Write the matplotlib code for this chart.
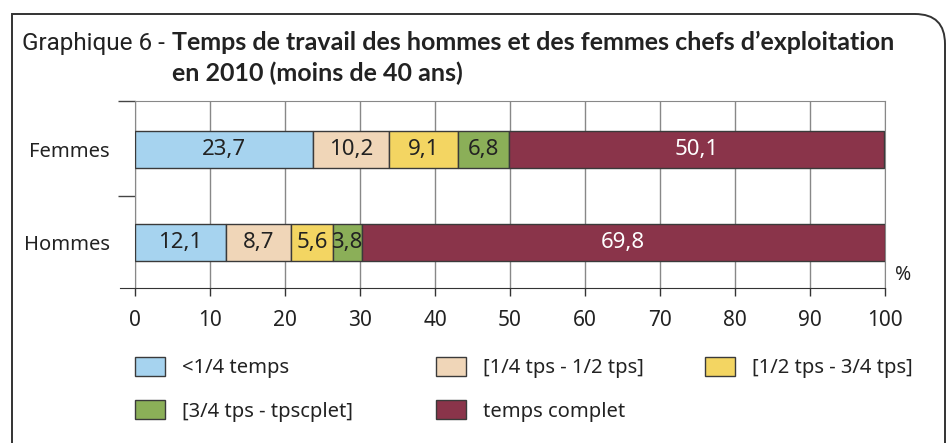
import matplotlib
matplotlib.use("Agg")
import matplotlib.pyplot as plt
from matplotlib.patches import Patch, PathPatch
from matplotlib.path import Path
import numpy as np

categories = ["Hommes", "Femmes"]
series_names = ["<1/4 temps", "[1/4 tps - 1/2 tps]", "[1/2 tps - 3/4 tps]",
                "[3/4 tps - tpscplet]", "temps complet"]
hommes = [12.1, 8.7, 5.6, 3.8, 69.8]
femmes = [23.7, 10.2, 9.1, 6.8, 50.1]
labels_h = ["12,1", "8,7", "5,6", "3,8", "69,8"]
labels_f = ["23,7", "10,2", "9,1", "6,8", "50,1"]
colors = ["#A6D3EF", "#F0D6B8", "#F3D562", "#8BAF58", "#8A344A"]
text_colors = ["#222222", "#222222", "#222222", "#222222", "white"]
xticks = [0, 10, 20, 30, 40, 50, 60, 70, 80, 90, 100]

W, H = 947, 443
fig = plt.figure(figsize=(W / 100, H / 100), dpi=100)
plt.rcParams['font.family'] = ['Noto Sans', 'DejaVu Sans']

def fx(px):
    return px / W

def fy(py):
    return 1 - py / H

ax = fig.add_axes([fx(135), fy(288), fx(885) - fx(135), fy(101) - fy(288)])

data = [hommes, femmes]
labs = [labels_h, labels_f]
ypos = [0, 1]
for yi, vals, ls in zip(ypos, data, labs):
    left = 0
    for i, v in enumerate(vals):
        ax.barh(yi, v, left=left, height=0.4, color=colors[i],
                edgecolor="#3a3a3a", linewidth=1.0, zorder=3)
        ax.text(left + v / 2, yi, ls[i], ha="center", va="center",
                fontsize=16, color=text_colors[i], zorder=4)
        left += v

ax.set_xlim(0, 100)
ax.set_ylim(-0.49, 1.52)
ax.set_xticks(xticks)
ax.set_xticklabels([str(t) for t in xticks], fontsize=15, color="#222222")
ax.tick_params(axis="x", length=6, width=1, color="#333333", pad=10)
ax.set_yticks(ypos)
ax.set_yticklabels(categories, fontsize=14.5, color="#222222")
ax.tick_params(axis="y", which="major", length=0, pad=18)
ax.set_yticks([0.5, 1.52], minor=True)
ax.tick_params(axis="y", which="minor", length=12, width=1, color="#444444")
ax.grid(axis="x", color="#888888", linewidth=1, zorder=1)
for s in ["top", "right", "left"]:
    ax.spines[s].set_color("#888888")
ax.spines["bottom"].set_color("#333333")
ax.spines["bottom"].set_bounds(-2, 100)
ax.spines["bottom"].set_clip_on(False)
ax.text(1.024, 0.07, "%", transform=ax.transAxes, fontsize=14, color="#222222",
        ha="center", va="center")

# Title
fig.text(fx(22), fy(50), "Graphique 6 -", fontsize=17.5, color="#222222",
         family=["Roboto", "DejaVu Sans"], fontweight="normal", va="baseline")
fig.text(fx(172), fy(50), "Temps de travail des hommes et des femmes chefs d\u2019exploitation",
         fontsize=18, fontweight="bold", color="#222222", va="baseline",
         family=["Lato", "DejaVu Sans"])
fig.text(fx(172), fy(81), "en 2010 (moins de 40 ans)",
         fontsize=18, fontweight="bold", color="#222222", va="baseline",
         family=["Lato", "DejaVu Sans"])

# Legend
handles = [Patch(facecolor=c, edgecolor="#3a3a3a", linewidth=1) for c in colors]
cols = [([0, 3], 135), ([1, 4], 436), ([2], 705)]
for idx, x0 in cols:
    leg = fig.legend([handles[i] for i in idx], [series_names[i] for i in idx],
                     loc="upper left", bbox_to_anchor=(fx(x0), fy(357)),
                     frameon=False, fontsize=14.5, handlelength=1.5, handleheight=1.05,
                     handletextpad=0.85, labelspacing=1.1, borderpad=0, borderaxespad=0)
    for t in leg.get_texts():
        t.set_color("#222222")

# Frame with rounded top-right corner
verts = [(12, 443), (12, 14), (915, 14), (945, 14), (945, 44), (945, 443)]
codes = [Path.MOVETO, Path.LINETO, Path.LINETO, Path.CURVE3, Path.CURVE3, Path.LINETO]
pverts = [(fx(x), fy(y)) for x, y in verts]
frame = PathPatch(Path(pverts, codes), facecolor="none", edgecolor="#333333",
                  linewidth=1.4, transform=fig.transFigure, clip_on=False)
fig.patches.append(frame)

fig.savefig("out.png", dpi=100)
